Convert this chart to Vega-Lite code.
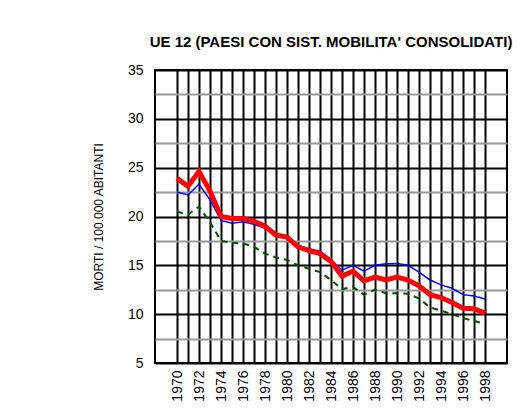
{
  "$schema": "https://vega.github.io/schema/vega-lite/v6.json",
  "autosize": "none",
  "width": 352,
  "height": 293,
  "padding": {"left": 155, "top": 70, "right": 21, "bottom": 53},
  "background": "white",
  "config": {
    "font": "Liberation Sans",
    "view": {"stroke": "black", "strokeWidth": 2}
  },
  "title": {
    "text": "UE 12 (PAESI CON SIST. MOBILITA' CONSOLIDATI)",
    "fontSize": 15,
    "fontWeight": "bold",
    "font": "Liberation Sans",
    "color": "black",
    "anchor": "middle",
    "offset": 6,
    "baseline": "middle"
  },
  "data": {
    "values": [
      {"anno": 1970, "serie": "rossa", "valore": 23.9},
      {"anno": 1971, "serie": "rossa", "valore": 23.1},
      {"anno": 1972, "serie": "rossa", "valore": 24.6},
      {"anno": 1973, "serie": "rossa", "valore": 22.6},
      {"anno": 1974, "serie": "rossa", "valore": 20.0},
      {"anno": 1975, "serie": "rossa", "valore": 19.8},
      {"anno": 1976, "serie": "rossa", "valore": 19.8},
      {"anno": 1977, "serie": "rossa", "valore": 19.5},
      {"anno": 1978, "serie": "rossa", "valore": 19.0},
      {"anno": 1979, "serie": "rossa", "valore": 18.1},
      {"anno": 1980, "serie": "rossa", "valore": 17.9},
      {"anno": 1981, "serie": "rossa", "valore": 16.9},
      {"anno": 1982, "serie": "rossa", "valore": 16.5},
      {"anno": 1983, "serie": "rossa", "valore": 16.2},
      {"anno": 1984, "serie": "rossa", "valore": 15.4},
      {"anno": 1985, "serie": "rossa", "valore": 13.9},
      {"anno": 1986, "serie": "rossa", "valore": 14.4},
      {"anno": 1987, "serie": "rossa", "valore": 13.4},
      {"anno": 1988, "serie": "rossa", "valore": 13.8},
      {"anno": 1989, "serie": "rossa", "valore": 13.5},
      {"anno": 1990, "serie": "rossa", "valore": 13.8},
      {"anno": 1991, "serie": "rossa", "valore": 13.5},
      {"anno": 1992, "serie": "rossa", "valore": 12.9},
      {"anno": 1993, "serie": "rossa", "valore": 12.0},
      {"anno": 1994, "serie": "rossa", "valore": 11.7},
      {"anno": 1995, "serie": "rossa", "valore": 11.2},
      {"anno": 1996, "serie": "rossa", "valore": 10.6},
      {"anno": 1997, "serie": "rossa", "valore": 10.55},
      {"anno": 1998, "serie": "rossa", "valore": 10.1},
      {"anno": 1970, "serie": "blu", "valore": 22.5},
      {"anno": 1971, "serie": "blu", "valore": 22.2},
      {"anno": 1972, "serie": "blu", "valore": 23.3},
      {"anno": 1973, "serie": "blu", "valore": 21.7},
      {"anno": 1974, "serie": "blu", "valore": 19.6},
      {"anno": 1975, "serie": "blu", "valore": 19.3},
      {"anno": 1976, "serie": "blu", "valore": 19.45},
      {"anno": 1977, "serie": "blu", "valore": 19.2},
      {"anno": 1978, "serie": "blu", "valore": 18.8},
      {"anno": 1979, "serie": "blu", "valore": 18.0},
      {"anno": 1980, "serie": "blu", "valore": 17.95},
      {"anno": 1981, "serie": "blu", "valore": 17.0},
      {"anno": 1982, "serie": "blu", "valore": 16.7},
      {"anno": 1983, "serie": "blu", "valore": 16.45},
      {"anno": 1984, "serie": "blu", "valore": 15.6},
      {"anno": 1985, "serie": "blu", "valore": 14.5},
      {"anno": 1986, "serie": "blu", "valore": 15.0},
      {"anno": 1987, "serie": "blu", "valore": 14.4},
      {"anno": 1988, "serie": "blu", "valore": 15.0},
      {"anno": 1989, "serie": "blu", "valore": 15.15},
      {"anno": 1990, "serie": "blu", "valore": 15.2},
      {"anno": 1991, "serie": "blu", "valore": 15.0},
      {"anno": 1992, "serie": "blu", "valore": 14.3},
      {"anno": 1993, "serie": "blu", "valore": 13.5},
      {"anno": 1994, "serie": "blu", "valore": 13.0},
      {"anno": 1995, "serie": "blu", "valore": 12.65},
      {"anno": 1996, "serie": "blu", "valore": 12.0},
      {"anno": 1997, "serie": "blu", "valore": 11.85},
      {"anno": 1998, "serie": "blu", "valore": 11.55},
      {"anno": 1970, "serie": "verde", "valore": 20.5},
      {"anno": 1971, "serie": "verde", "valore": 20.2},
      {"anno": 1972, "serie": "verde", "valore": 21.0},
      {"anno": 1973, "serie": "verde", "valore": 19.4},
      {"anno": 1974, "serie": "verde", "valore": 17.5},
      {"anno": 1975, "serie": "verde", "valore": 17.3},
      {"anno": 1976, "serie": "verde", "valore": 17.25},
      {"anno": 1977, "serie": "verde", "valore": 16.9},
      {"anno": 1978, "serie": "verde", "valore": 16.2},
      {"anno": 1979, "serie": "verde", "valore": 15.8},
      {"anno": 1980, "serie": "verde", "valore": 15.55},
      {"anno": 1981, "serie": "verde", "valore": 15.0},
      {"anno": 1982, "serie": "verde", "valore": 14.65},
      {"anno": 1983, "serie": "verde", "valore": 14.3},
      {"anno": 1984, "serie": "verde", "valore": 13.5},
      {"anno": 1985, "serie": "verde", "valore": 12.55},
      {"anno": 1986, "serie": "verde", "valore": 12.8},
      {"anno": 1987, "serie": "verde", "valore": 12.0},
      {"anno": 1988, "serie": "verde", "valore": 12.5},
      {"anno": 1989, "serie": "verde", "valore": 12.15},
      {"anno": 1990, "serie": "verde", "valore": 12.15},
      {"anno": 1991, "serie": "verde", "valore": 12.1},
      {"anno": 1992, "serie": "verde", "valore": 11.6},
      {"anno": 1993, "serie": "verde", "valore": 10.7},
      {"anno": 1994, "serie": "verde", "valore": 10.35},
      {"anno": 1995, "serie": "verde", "valore": 10.0},
      {"anno": 1996, "serie": "verde", "valore": 9.6},
      {"anno": 1997, "serie": "verde", "valore": 9.3},
      {"anno": 1998, "serie": "verde", "valore": 9.0}
    ]
  },
  "encoding": {
    "x": {
      "field": "anno",
      "type": "quantitative",
      "scale": {"domain": [1968, 2000], "nice": false, "zero": false},
      "axis": {
        "title": null,
        "values": [1970,1971,1972,1973,1974,1975,1976,1977,1978,1979,1980,1981,1982,1983,1984,1985,1986,1987,1988,1989,1990,1991,1992,1993,1994,1995,1996,1997,1998],
        "labelExpr": "datum.value % 2 === 0 ? datum.value + '' : ''",
        "labelAngle": -90,
        "labelFontSize": 14,
        "labelColor": "black",
        "labelPadding": 7,
        "labelOverlap": false,
        "labelFont": "Liberation Sans",
        "ticks": false,
        "domain": false,
        "grid": true,
        "gridColor": "black",
        "gridWidth": 2,
        "gridOpacity": 1
      }
    },
    "y": {
      "field": "valore",
      "type": "quantitative",
      "scale": {"domain": [5, 35], "nice": false, "zero": false},
      "axis": {
        "title": "MORTI / 100.000 ABITANTI",
        "titleFontSize": 12,
        "titleFontWeight": "normal",
        "titleColor": "black",
        "titleFont": "Liberation Sans",
        "titlePadding": 22,
        "values": [5, 7.5, 10, 12.5, 15, 17.5, 20, 22.5, 25, 27.5, 30, 32.5, 35],
        "labelExpr": "datum.value % 5 === 0 ? datum.value + '' : ''",
        "labelFontSize": 14,
        "labelColor": "black",
        "labelPadding": 12,
        "labelOverlap": false,
        "labelFont": "Liberation Sans",
        "ticks": false,
        "domain": false,
        "grid": true,
        "gridColor": {"condition": {"test": "datum.value % 5 === 0", "value": "black"}, "value": "#999999"},
        "gridWidth": 2,
        "gridOpacity": 1
      }
    }
  },
  "layer": [
    {
      "transform": [{"filter": "datum.serie === 'verde'"}],
      "mark": {"type": "line", "color": "#005000", "strokeWidth": 2, "strokeDash": [6, 5]}
    },
    {
      "transform": [{"filter": "datum.serie === 'blu'"}],
      "mark": {"type": "line", "color": "#0000FF", "strokeWidth": 1.5}
    },
    {
      "transform": [{"filter": "datum.serie === 'rossa'"}],
      "mark": {"type": "line", "color": "#FF0000", "strokeWidth": 5}
    }
  ]
}
